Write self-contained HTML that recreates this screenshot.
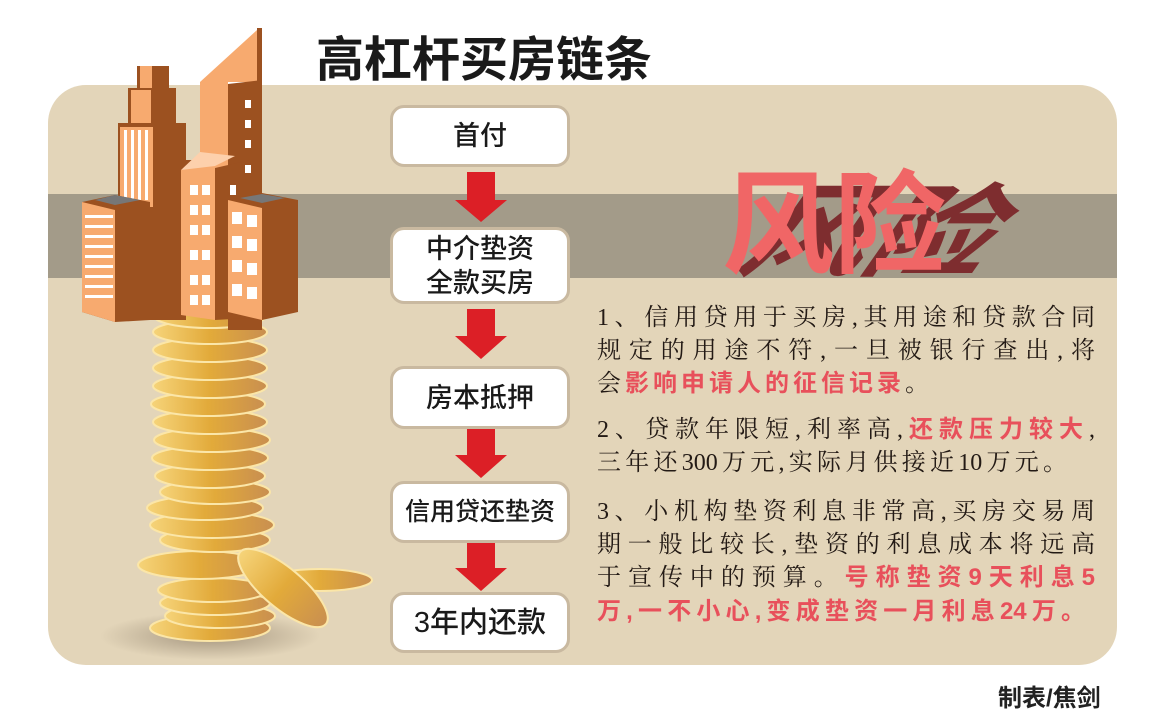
<!DOCTYPE html>
<html><head><meta charset="utf-8"><style>
body{margin:0;width:1156px;height:718px;background:#fff;position:relative;overflow:hidden;font-family:"Liberation Sans","Noto Sans CJK SC",sans-serif}
.box{position:absolute;left:390px;width:180px;background:#fff;border:3px solid #c9b9a0;border-radius:14px;box-sizing:border-box;display:flex;align-items:center;justify-content:center;text-align:center;font-size:27px;color:#1a1a1a;line-height:34px;font-weight:500}
.t{position:absolute;left:597px;width:498px;font-family:"Liberation Serif","Noto Serif CJK SC",serif;font-size:24px;color:#231a15;white-space:nowrap;text-align:justify;text-align-last:justify;height:32px;line-height:32px}
.r{color:#e8505b;font-family:"Liberation Sans","Noto Sans CJK SC",sans-serif;font-weight:bold}
</style></head><body>
<svg width="1156" height="718" style="position:absolute;left:0;top:0">
<defs><linearGradient id="g" x1="0" x2="1"><stop offset="0" stop-color="#f6d47a"/><stop offset=".5" stop-color="#e2aa3a"/><stop offset="1" stop-color="#c98f50"/></linearGradient>
<radialGradient id="sh"><stop offset="0" stop-color="#8a7b66" stop-opacity=".7"/><stop offset="1" stop-color="#8a7b66" stop-opacity="0"/></radialGradient>
<clipPath id="pc"><rect x="48" y="85" width="1069" height="580" rx="38"/></clipPath></defs>
<g clip-path="url(#pc)">
<rect x="48" y="85" width="1069" height="580" fill="#e3d5b9"/>
<rect x="48" y="194" width="1069" height="84" fill="#a39b89"/>
</g>
<ellipse cx="210" cy="636" rx="110" ry="24" fill="url(#sh)"/>
<g stroke="#fbe6a8" stroke-width="2">
<ellipse cx="210" cy="628" rx="60" ry="13" fill="url(#g)"/>
<ellipse cx="220" cy="616" rx="55" ry="12" fill="url(#g)"/>
<ellipse cx="215" cy="603" rx="55" ry="12" fill="url(#g)"/>
<ellipse cx="213" cy="590" rx="55" ry="12" fill="url(#g)"/>
<ellipse cx="200" cy="565" rx="62" ry="14" fill="url(#g)"/>
<ellipse cx="215" cy="540" rx="55" ry="12" fill="url(#g)"/>
<ellipse cx="212" cy="525" rx="62" ry="13" fill="url(#g)"/>
<ellipse cx="205" cy="508" rx="58" ry="12" fill="url(#g)"/>
<ellipse cx="215" cy="492" rx="55" ry="12" fill="url(#g)"/>
<ellipse cx="210" cy="476" rx="55" ry="12" fill="url(#g)"/>
<ellipse cx="210" cy="458" rx="58" ry="12" fill="url(#g)"/>
<ellipse cx="212" cy="440" rx="58" ry="12" fill="url(#g)"/>
<ellipse cx="210" cy="422" rx="57" ry="12" fill="url(#g)"/>
<ellipse cx="208" cy="404" rx="57" ry="12" fill="url(#g)"/>
<ellipse cx="210" cy="386" rx="57" ry="12" fill="url(#g)"/>
<ellipse cx="210" cy="368" rx="57" ry="12" fill="url(#g)"/>
<ellipse cx="210" cy="350" rx="57" ry="12" fill="url(#g)"/>
<ellipse cx="210" cy="332" rx="57" ry="12" fill="url(#g)"/>
<ellipse cx="210" cy="316" rx="56" ry="12" fill="url(#g)"/>
<ellipse cx="320" cy="580" rx="52" ry="11" fill="url(#g)"/>
<ellipse cx="283" cy="588" rx="56" ry="20" transform="rotate(40 283 588)" fill="url(#g)"/>
</g>
<polygon points="200,82 228,82 228,318 200,318" fill="#f7aa6f"/>
<polygon points="200,82 257,30 257,82" fill="#f7aa6f"/>
<polygon points="228,84 262,80 262,330 228,330" fill="#9c5120"/>
<polygon points="257,28 262,28 262,82 257,82" fill="#9c5120"/>
<rect x="137" y="66" width="32" height="24" fill="#9c5120"/>
<rect x="140" y="66" width="12" height="24" fill="#f7aa6f"/>
<rect x="128" y="88" width="48" height="35" fill="#9c5120"/>
<rect x="131" y="90" width="20" height="33" fill="#f7aa6f"/>
<polygon points="118,123 186,123 186,320 118,320" fill="#9c5120"/>
<rect x="120" y="127" width="33" height="80" fill="#f7aa6f"/>
<g fill="#fff"><rect x="124" y="130" width="3" height="70"/><rect x="131" y="130" width="3" height="70"/><rect x="138" y="130" width="3" height="70"/><rect x="145" y="130" width="3" height="70"/></g>
<polygon points="160,160 200,160 200,315 160,315" fill="#9c5120"/>
<polygon points="181,170 215,162 215,320 181,315" fill="#f7aa6f"/>
<polygon points="181,170 200,152 235,156 215,166" fill="#fdd0ac"/>
<polygon points="215,168 250,160 250,318 215,320" fill="#9c5120"/>
<g fill="#fff">
<rect x="190" y="185" width="8" height="10"/><rect x="202" y="185" width="8" height="10"/>
<rect x="190" y="205" width="8" height="10"/><rect x="202" y="205" width="8" height="10"/>
<rect x="190" y="225" width="8" height="10"/><rect x="202" y="225" width="8" height="10"/>
<rect x="190" y="250" width="8" height="10"/><rect x="202" y="250" width="8" height="10"/>
<rect x="190" y="275" width="8" height="10"/><rect x="202" y="275" width="8" height="10"/>
<rect x="190" y="295" width="8" height="10"/><rect x="202" y="295" width="8" height="10"/>
<rect x="230" y="185" width="6" height="10"/><rect x="230" y="225" width="6" height="10"/><rect x="230" y="270" width="6" height="10"/>
<rect x="245" y="100" width="6" height="8"/><rect x="245" y="120" width="6" height="8"/><rect x="245" y="140" width="6" height="8"/><rect x="245" y="165" width="6" height="8"/>
</g>
<polygon points="82,202 115,195 150,202 150,320 115,322 82,312" fill="#9c5120"/>
<polygon points="82,202 115,210 115,322 82,312" fill="#f7aa6f"/>
<polygon points="95,200 115,195 140,200 115,205" fill="#777"/>
<g fill="#fff"><rect x="85" y="215" width="28" height="3"/><rect x="85" y="225" width="28" height="3"/><rect x="85" y="235" width="28" height="3"/><rect x="85" y="245" width="28" height="3"/><rect x="85" y="255" width="28" height="3"/><rect x="85" y="265" width="28" height="3"/><rect x="85" y="275" width="28" height="3"/><rect x="85" y="285" width="28" height="3"/><rect x="85" y="295" width="28" height="3"/></g>
<polygon points="228,200 262,193 298,200 298,312 262,320 228,312" fill="#9c5120"/>
<polygon points="228,200 262,208 262,320 228,312" fill="#f7aa6f"/>
<polygon points="240,198 262,194 285,198 262,203" fill="#777"/>
<g fill="#fff"><rect x="232" y="212" width="10" height="12"/><rect x="247" y="215" width="10" height="12"/><rect x="232" y="236" width="10" height="12"/><rect x="247" y="239" width="10" height="12"/><rect x="232" y="260" width="10" height="12"/><rect x="247" y="263" width="10" height="12"/><rect x="232" y="284" width="10" height="12"/><rect x="247" y="287" width="10" height="12"/></g>
<g fill="#dc1f26">
<polygon points="467,172 495,172 495,200 507,200 481,222 455,200 467,200"/>
<polygon points="467,309 495,309 495,336 507,336 481,359 455,336 467,336"/>
<polygon points="467,429 495,429 495,455 507,455 481,478 455,455 467,455"/>
<polygon points="467,542 495,542 495,568 507,568 481,591 455,568 467,568"/>
</g>
<g font-family="Noto Sans CJK SC,sans-serif" font-weight="bold" font-size="112">
<g transform="translate(795,268) skewX(-35) scale(1.1,0.9)"><text x="-55" y="0" fill="#7e2d2f">风险</text></g>
<text x="722" y="264" fill="#f06666">风险</text>
</g>
</svg>
<div style="position:absolute;left:316px;top:20px;font-size:48px;font-weight:bold;color:#1a1a1a">高杠杆买房链条</div>
<div class="box" style="top:105px;height:62px">首付</div>
<div class="box" style="top:227px;height:77px">中介垫资<br>全款买房</div>
<div class="box" style="top:366px;height:63px">房本抵押</div>
<div class="box" style="top:481px;height:62px;font-size:25px">信用贷还垫资</div>
<div class="box" style="top:592px;height:61px;font-size:29px">3年内还款</div>
<div class="t" style="top:302px">1、信用贷用于买房,其用途和贷款合同</div>
<div class="t" style="top:335px">规定的用途不符,一旦被银行查出,将</div>
<div class="t" style="top:368px;width:auto;text-align-last:auto;letter-spacing:4px">会<span class="r">影响申请人的征信记录</span>。</div>
<div class="t" style="top:414px">2、贷款年限短,利率高,<span class="r">还款压力较大</span>,</div>
<div class="t" style="top:447px;width:470px">三年还300万元,实际月供接近10万元。</div>
<div class="t" style="top:496px">3、小机构垫资利息非常高,买房交易周</div>
<div class="t" style="top:529px">期一般比较长,垫资的利息成本将远高</div>
<div class="t" style="top:562px">于宣传中的预算。<span class="r">号称垫资9天利息5</span></div>
<div class="t r" style="top:596px;width:488px">万,一不小心,变成垫资一月利息24万。</div>
<div style="position:absolute;left:998px;top:678px;font-size:24px;font-weight:bold;color:#222">制表/焦剑</div>
</body></html>
